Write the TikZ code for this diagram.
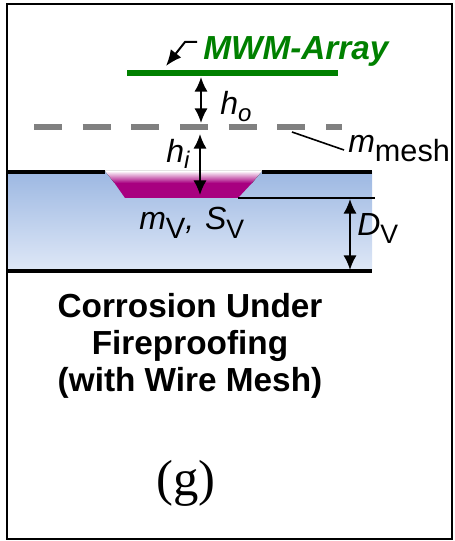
\documentclass[tikz,border=0pt]{standalone}
\usepackage{fontspec}
\setmainfont{Liberation Serif}
\setsansfont{Liberation Sans}
\usetikzlibrary{arrows.meta}
\definecolor{wetblue}{HTML}{9DB8E2}
\definecolor{paleblue}{HTML}{DFE8F7}
\definecolor{defect}{HTML}{A80080}
\definecolor{arraygreen}{HTML}{008000}
\definecolor{meshgray}{HTML}{808080}
\newcommand{\lowtext}[3]{\raisebox{#1}{\fontsize{#2}{#2}\selectfont #3}}
\begin{document}
\begin{tikzpicture}[x=0.75pt,y=-0.75pt]
	\tikzset{dim/.style = {{Latex[length=11pt,width=10pt]}-{Latex[length=11pt,width=10pt]}, line width=1.5pt}}
	\tikzset{plate/.style = {line width=3pt}}
	\tikzset{lbl/.style = {inner sep=0pt, anchor=base west, font=\sffamily\itshape\fontsize{24}{28}\selectfont}}
	\tikzset{title/.style = {inner sep=0pt, align=center, font=\sffamily\bfseries\fontsize{25}{28}\selectfont}}
	\useasboundingbox (0,0) rectangle (454,541);
	
	% frame
	\draw[line width=2pt] (7,4) rectangle (452,539);
	
	% layer
	\fill[bottom color=paleblue, top color=wetblue] (8,172) rectangle (372,271);
	\fill[defect] (114.5,183) -- (252,183) -- (238,198) -- (125,198) -- cycle;
	\fill[top color=white, bottom color=defect] (105,171) -- (262,171) -- (252,183) -- (114.5,183) -- cycle;
	
	% named points
	\coordinate (plateL) at (8,172.5);
	\coordinate (gapL) at (105,172.5);
	\coordinate (gapR) at (262,172.5);
	\coordinate (plateR) at (372,172.5);
	\coordinate (backL) at (8,271);
	\coordinate (backR) at (372,271);
	\coordinate (floorR) at (238,198);
	\coordinate (floorEnd) at (375,198);
	\coordinate (arrayL) at (127,73);
	\coordinate (arrayR) at (338,73);
	\coordinate (meshL) at (34,127.5);
	\coordinate (meshR) at (342,127.5);
	\coordinate (arrayDown) at (201,77);
	\coordinate (meshUp) at (201,123);
	\coordinate (meshDown) at (200,134);
	\coordinate (pitDown) at (200,195);
	\coordinate (depthUp) at (350,199);
	\coordinate (depthDown) at (350,270);
	\coordinate (pointerA) at (197,42);
	\coordinate (pointerB) at (185,42);
	\coordinate (pointerC) at (166,66);
	\coordinate (leaderA) at (292,132);
	\coordinate (leaderB) at (344,150);
	
	% labels
	\node[lbl, text=arraygreen, font=\sffamily\bfseries\itshape\fontsize{25}{28}\selectfont] (array) at (203,60) {MWM-Array};
	\node[lbl] (ho) at (220,115) {h\lowtext{-5pt}{18}{o}};
	\node[lbl] (hi) at (166,163) {h\lowtext{-4pt}{18}{i}};
	\node[lbl] (mesh) at (348,153) {m\lowtext{-6.5pt}{23}{\upshape mesh}};
	\node[lbl] (mv) at (139,229) {m\lowtext{-7pt}{22}{\upshape V},\hspace{8pt}S\lowtext{-7pt}{20}{\upshape V}};
	\node[lbl] (dv) at (357,235) {D\lowtext{-6pt}{20}{\upshape V}};
	\node[title] (name) at (190,346) {Corrosion Under\\Fireproofing\\(with Wire Mesh)};
	\node[inner sep=0pt, anchor=base, font=\fontsize{38}{40}\selectfont] (tag) at (186,495) {(g)};
	
	% lines
	\draw[plate] (plateL) -- (gapL);
	\draw[plate] (gapR) -- (plateR);
	\draw[plate] (backL) -- (backR);
	\draw[line width=1.2pt] (floorR) -- (floorEnd);
	\draw[line width=5pt, arraygreen] (arrayL) -- (arrayR);
	\draw[line width=4.5pt, meshgray, dash pattern=on 21pt off 15.5pt] (meshL) -- (meshR);
	\draw[dim] (arrayDown) -- (meshUp);
	\draw[dim] (meshDown) -- (pitDown);
	\draw[dim] (depthUp) -- (depthDown);
	\draw[-{Latex[length=12pt,width=10pt]}, line width=1.5pt] (pointerA) -- (pointerB) -- (pointerC);
	\draw[line width=1.2pt] (leaderA) -- (leaderB);
	
\end{tikzpicture}
\end{document}
